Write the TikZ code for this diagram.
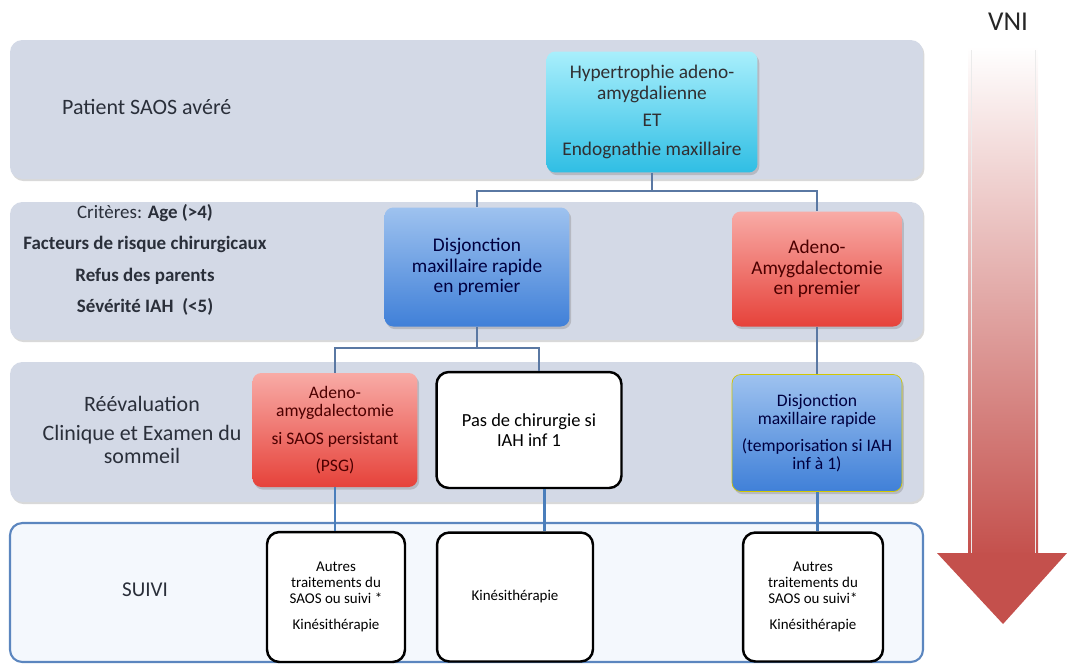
\documentclass[tikz,border=0pt]{standalone}
\usepackage{fontspec}
\setmainfont{Carlito}
\usetikzlibrary{shadows}

\definecolor{bandgrey}{HTML}{D3D9E6}
\definecolor{suivifill}{HTML}{F4F8FD}
\definecolor{suiviline}{HTML}{5B86BF}
\definecolor{linkblue}{HTML}{5A78A3}
\definecolor{feedblue}{HTML}{4A7EBB}
\definecolor{cyantop}{HTML}{A8EFFC}
\definecolor{cyanbot}{HTML}{2FBEE4}
\definecolor{bluetop}{HTML}{9EC2EF}
\definecolor{bluebot}{HTML}{4080D8}
\definecolor{redtop}{HTML}{F8ABA6}
\definecolor{redbot}{HTML}{E6423A}
\definecolor{vnired}{HTML}{C4504C}
\definecolor{textdark}{HTML}{2A2F3A}

\tikzstyle{band}=[rounded corners=7pt, fill=bandgrey, drop shadow={opacity=0.3, shadow xshift=0.8pt, shadow yshift=-1.2pt}]
\tikzstyle{suivi}=[rounded corners=7pt, fill=suivifill, draw=suiviline, line width=1.2pt]
\tikzstyle{box}=[rounded corners=5pt, align=center, inner sep=2pt, drop shadow={opacity=0.35, shadow xshift=1pt, shadow yshift=-1.5pt}]
\tikzstyle{cyanbox}=[box, top color=cyantop, bottom color=cyanbot, text=black!80!cyan!40!black]
\tikzstyle{bluebox}=[box, top color=bluetop, bottom color=bluebot, text=blue!25!black]
\tikzstyle{redbox}=[box, top color=redtop, bottom color=redbot, text=red!30!black]
\tikzstyle{whitebox}=[rounded corners=7pt, align=center, inner sep=2pt, fill=white, draw=black, line width=1.4pt, text=black]
\tikzstyle{link}=[draw=linkblue, line width=0.6pt]
\tikzstyle{feed}=[draw=feedblue, line width=1.7pt]

\begin{document}
\begin{tikzpicture}[x=0.02cm, y=-0.02cm, text=textdark]
    \useasboundingbox (0,0) rectangle (1067,664);
% Bands
    \fill[band] (10,40) rectangle (923,179);
    \fill[band] (10,202) rectangle (923,340);
    \fill[band] (10,362) rectangle (923,502);
    \filldraw[suivi] (10,523) rectangle (923,662);
% Band labels
    \node[anchor=west, font=\fontsize{12.5}{14}\selectfont] (patient) at (56,107) {Patient SAOS avéré};
    \node[align=center, font=\fontsize{10.8}{17.8}\selectfont] (criteres) at (145,260)
        {Critères: \textbf{Age (>4)}\\ \textbf{Facteurs de risque chirurgicaux}\\ \textbf{Refus des parents}\\ \textbf{Sévérité IAH\ \ (<5)}};
    \node[align=center, font=\fontsize{12.5}{13.5}\selectfont] (reeval) at (142,430)
        {Réévaluation\\[3pt] Clinique et Examen du\\ sommeil};
    \node[font=\fontsize{12}{14}\selectfont] (suivilabel) at (145,590) {SUIVI};
% Boxes
    \node[cyanbox, minimum width=4.22cm, minimum height=2.42cm, font=\fontsize{11}{11.5}\selectfont] (hyper) at (652,112)
        {Hypertrophie adeno-\\ amygdalienne\\[4pt] ET\\[5pt] Endognathie maxillaire};
    \node[bluebox, minimum width=3.7cm, minimum height=2.38cm, font=\fontsize{11}{11.5}\selectfont] (disj1) at (477,267)
        {Disjonction\\ maxillaire rapide\\ en premier};
    \node[redbox, minimum width=3.4cm, minimum height=2.3cm, font=\fontsize{11}{11.5}\selectfont] (adeno1) at (817,269)
        {Adeno-\\ Amygdalectomie\\ en premier};
    \node[redbox, minimum width=3.3cm, minimum height=2.28cm, font=\fontsize{10}{10.5}\selectfont] (adeno2) at (335,430)
        {Adeno-\\ amygdalectomie\\[5pt] si SAOS persistant\\[5pt] (PSG)};
    \node[whitebox, minimum width=3.7cm, minimum height=2.32cm, font=\fontsize{10.5}{11}\selectfont] (pas) at (529,430)
        {Pas de chirurgie si\\ IAH inf 1};
    \node[bluebox, draw=yellow!60!olive, line width=0.4pt, minimum width=3.4cm, minimum height=2.34cm, font=\fontsize{10}{10.5}\selectfont] (disj2) at (817,433)
        {Disjonction\\ maxillaire rapide\\[4.5pt] (temporisation si IAH\\ inf à 1)};
    \node[whitebox, minimum width=2.76cm, minimum height=2.6cm, font=\fontsize{8.5}{9}\selectfont] (autres1) at (336,597)
        {Autres\\ traitements du\\ SAOS ou suivi *\\[6pt] Kinésithérapie};
    \node[whitebox, minimum width=3.12cm, minimum height=2.58cm, font=\fontsize{8.5}{9}\selectfont] (kine) at (515,597)
        {Kinésithérapie};
    \node[whitebox, minimum width=2.8cm, minimum height=2.58cm, font=\fontsize{8.5}{9}\selectfont] (autres2) at (813,597)
        {Autres\\ traitements du\\ SAOS ou suivi*\\[6pt] Kinésithérapie};
% Links
    \coordinate (split1) at (652,191);
    \coordinate (split2) at (477,348);
    \draw[link] (hyper.south) -- (split1);
    \draw[link] (disj1.north) |- (split1) -| (adeno1.north);
    \draw[link] (disj1.south) -- (split2);
    \draw[link] (adeno2.north) |- (split2) -| ([xshift=0.2cm]pas.north);
    \draw[link] (adeno1.south) -- (disj2.north);
% Follow-up links
    \draw[feed] (adeno2.south) -- (adeno2.south |- autres1.north);
    \draw[feed] ([xshift=0.3cm]pas.south) -- ([xshift=0.3cm]pas.south |- kine.north);
    \draw[feed] (disj2.south) -- (disj2.south |- autres2.north);
% VNI arrow
    \node[font=\fontsize{15.5}{17}\selectfont, text=black!85] (vni) at (1008,22) {VNI};
    \shade[top color=white, bottom color=vnired] (968,46) rectangle (1038,556);
    \draw[black!8, line width=0.5pt] (971,50) -- (971,553) (1035,50) -- (1035,553);
    \fill[vnired] (937,553) -- (1067,553) -- (1003,624) -- cycle;
\end{tikzpicture}
\end{document}
